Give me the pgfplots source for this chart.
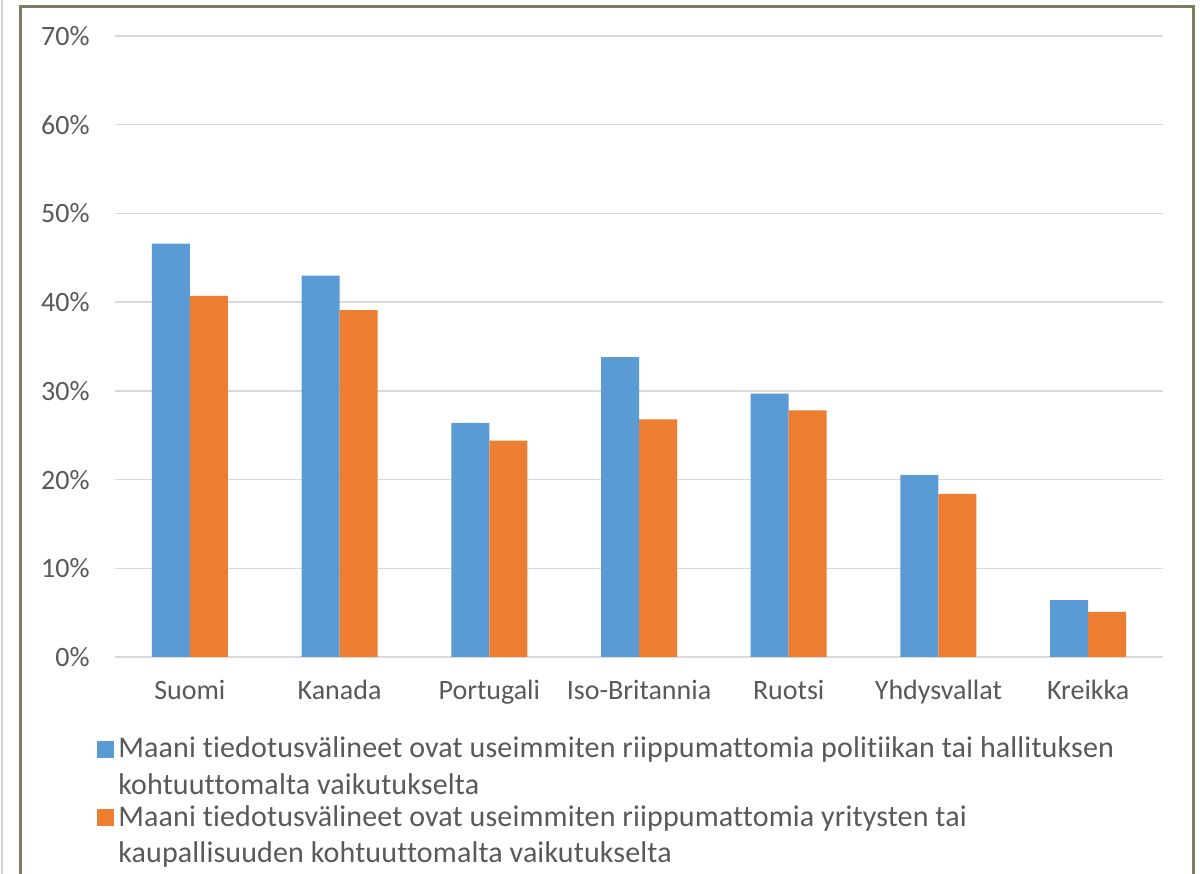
\documentclass[border=0pt]{standalone}
\usepackage{pgfplots}
\pgfplotsset{compat=1.18}
\usepackage{fontspec}
\setmainfont{Carlito}
\newfontfamily\legfont{Carlito}[LetterSpace=0.5, Ligatures=NoCommon]
\definecolor{barblue}{RGB}{91,155,213}
\definecolor{barorange}{RGB}{237,125,49}
\definecolor{txtgray}{RGB}{89,89,89}
\definecolor{gridgray}{RGB}{217,217,217}
\definecolor{frameolive}{RGB}{128,124,96}

\begin{document}
\begin{tikzpicture}
\useasboundingbox (0,0) rectangle (601.5bp,437bp);
\fill[white] (0,0) rectangle (601.5bp,437bp);
\draw[line width=0.6bp, gray!35] (1bp,0) -- (1bp,437bp);
\draw[line width=1.5bp, frameolive] (10bp,-2bp) -- (10bp,433.5bp) -- (596.5bp,433.5bp) -- (596.5bp,-2bp);
\begin{axis}[
  at={(57.5bp,108.5bp)}, anchor=south west,
  scale only axis, width=524bp, height=310.5bp,
  ybar, bar width=19bp, ybar=0pt,
  xmin=-0.5, xmax=6.5, ymin=0, ymax=70,
  xtick=data,
  xticklabels={Suomi,Kanada,Portugali,Iso-Britannia,Ruotsi,Yhdysvallat,Kreikka},
  ytick={0,10,...,70},
  yticklabel={\pgfmathprintnumber[assume math mode=true]{\tick}\%},
  major tick length=0pt,
  axis line style={draw=none},
  ymajorgrids, grid style={gridgray, line width=0.75bp},
  tick label style={font=\fontsize{14bp}{16bp}\selectfont, text=txtgray, inner sep=0pt},
  yticklabel style={anchor=east, xshift=-12.5bp},
  xticklabel style={anchor=base, yshift=-21bp},
  legend style={at={(-0.0172,-0.1218)}, anchor=north west, draw=none, fill=none,
    inner sep=0pt, row sep=0pt,
    font=\legfont\fontsize{15bp}{18.25bp}\selectfont, text=txtgray,
    cells={anchor=west, align=left}},
  legend image code/.code={\fill[#1,draw=none] (0bp,4.75bp) rectangle (8.5bp,13.25bp);},
]
\addplot[fill=barblue, draw=none] coordinates {
 (0,46.6) (1,43.0) (2,26.4) (3,33.8) (4,29.7) (5,20.5) (6,6.4)
};
\addlegendentry{Maani tiedotusvälineet ovat useimmiten riippumattomia politiikan tai hallituksen\\kohtuuttomalta vaikutukselta}
\addplot[fill=barorange, draw=none] coordinates {
 (0,40.7) (1,39.1) (2,24.4) (3,26.8) (4,27.8) (5,18.4) (6,5.1)
};
\addlegendentry{Maani tiedotusvälineet ovat useimmiten riippumattomia yritysten tai\\kaupallisuuden kohtuuttomalta vaikutukselta}
\end{axis}
\end{tikzpicture}
\end{document}
